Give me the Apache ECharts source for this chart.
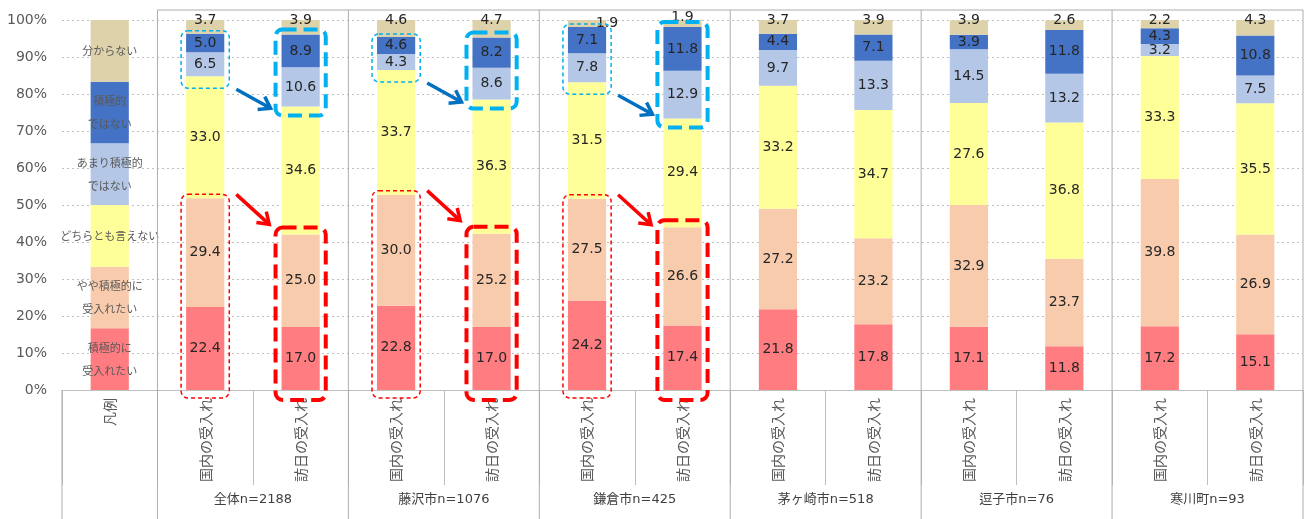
<!DOCTYPE html>
<html>
<head>
<meta charset="utf-8">
<script src="https://cdn.jsdelivr.net/npm/echarts@6/dist/echarts.min.js"></script>
<style>
html, body { margin: 0; padding: 0; background: #ffffff; }
#chart { width: 1308px; height: 519px; }
</style>
</head>
<body>
<div id="chart"></div>
<script>
// Categories on the x axis: a legend column, then a pair of bars per area
const categories = ['凡例',
  '国内の受入れ', '訪日の受入れ', '国内の受入れ', '訪日の受入れ',
  '国内の受入れ', '訪日の受入れ', '国内の受入れ', '訪日の受入れ',
  '国内の受入れ', '訪日の受入れ', '国内の受入れ', '訪日の受入れ'];
const groupLabels = ['全体n=2188', '藤沢市n=1076', '鎌倉市n=425', '茅ヶ崎市n=518', '逗子市n=76', '寒川町n=93'];

// Answer categories (stack order, bottom to top)
const seriesNames = ['積極的に\n受入れたい', 'やや積極的に\n受入れたい', 'どちらとも言えない',
  'あまり積極的\nではない', '積極的\nではない', '分からない'];
// Shares used for the legend column bar
const legendShare = [16.7, 16.6, 16.7, 16.7, 16.6, 16.7];

// Percentages per bar (国内, 訪日 for each area in order)
const strongYes   = [22.4, 17.0, 22.8, 17.0, 24.2, 17.4, 21.8, 17.8, 17.1, 11.8, 17.2, 15.1];
const ratherYes   = [29.4, 25.0, 30.0, 25.2, 27.5, 26.6, 27.2, 23.2, 32.9, 23.7, 39.8, 26.9];
const neutral     = [33.0, 34.6, 33.7, 36.3, 31.5, 29.4, 33.2, 34.7, 27.6, 36.8, 33.3, 35.5];
const notVery     = [6.5, 10.6, 4.3, 8.6, 7.8, 12.9, 9.7, 13.3, 14.5, 13.2, 3.2, 7.5];
const notPositive = [5.0, 8.9, 4.6, 8.2, 7.1, 11.8, 4.4, 7.1, 3.9, 11.8, 4.3, 10.8];
const unknown     = [3.7, 3.9, 4.6, 4.7, 1.9, 1.9, 3.7, 3.9, 3.9, 2.6, 2.2, 4.3];

const yMax = 100;
const yStep = 10;
// Areas whose domestic/inbound pairs are highlighted
const highlightedGroups = [0, 1, 2];

const valueSeries = [strongYes, ratherYes, neutral, notVery, notPositive, unknown];
const colors = ['#FF7C80', '#F8CBAD', '#FFFF99', '#B4C7E7', '#4472C4', '#DED2AA'];
const numFont = 'DejaVu Sans';
const jpFont = 'Noto Sans CJK JP';
const axisGray = '#BFBFBF';
const frameGray = '#ADADAD';

const chart = echarts.init(document.getElementById('chart'), null, { renderer: 'canvas' });

function buildData(si) {
  const items = [{
    value: legendShare[si],
    label: {
      formatter: seriesNames[si], position: 'inside', offset: [0, 0],
      color: '#595959', fontFamily: jpFont, fontSize: 11, lineHeight: 23
    }
  }];
  valueSeries[si].forEach(function (v, i) {
    const item = { value: v };
    if (si === 5 && i === 4) item.label = { offset: [20, 3] };
    if (si === 5 && i === 5) item.label = { offset: [0, -3] };
    items.push(item);
  });
  return items;
}

const series = seriesNames.map(function (name, si) {
  return {
    name: name,
    type: 'bar',
    stack: 'total',
    barWidth: '40%',
    data: buildData(si),
    itemStyle: { color: colors[si] },
    label: {
      show: true,
      position: si === 5 ? ['50%', 0] : 'inside',
      align: 'center',
      verticalAlign: 'middle',
      formatter: function (p) { return Number(p.value).toFixed(1); },
      color: '#262626',
      fontFamily: numFont,
      fontSize: 14
    },
    emphasis: { disabled: true },
    animation: false
  };
});

chart.setOption({
  animation: false,
  grid: { left: 62, right: 5, top: 20, bottom: 129, containLabel: false },
  xAxis: {
    type: 'category',
    data: categories,
    axisLine: { show: true, lineStyle: { color: axisGray, width: 1 } },
    axisTick: { show: true, interval: 0, length: 95, lineStyle: { color: axisGray } },
    axisLabel: {
      interval: 0, rotate: 90, margin: 8,
      color: '#595959', fontFamily: jpFont, fontSize: 14
    },
    splitLine: { show: false }
  },
  yAxis: {
    type: 'value',
    min: 0, max: yMax, interval: yStep,
    axisLine: { show: false },
    axisTick: { show: false },
    axisLabel: {
      formatter: '{value}%', margin: 15,
      color: '#595959', fontFamily: numFont, fontSize: 14
    },
    splitLine: { show: true, lineStyle: { color: axisGray, type: [2, 3], width: 1 } }
  },
  series: series
});

// Frame lines, area labels and highlight annotations, placed via the axes
function cum(upTo, i) {
  let s = 0;
  for (let k = 0; k < upTo; k++) s += valueSeries[k][i];
  return s;
}
const px = function (cat, val) { return chart.convertToPixel({ gridIndex: 0 }, [cat, val]); };
const x0 = px(0, 0)[0];
const slot = px(1, 0)[0] - x0;
const barW = slot * 0.4;
const yBase = px(0, 0)[1];
const yTop = px(0, yMax)[1];
const frameTop = yTop - 10;
const H = chart.getHeight();
const boundary = function (b) { return x0 + (b - 0.5) * slot; };
const py = function (v) { return px(0, v)[1]; };

const graphics = [];
// top frame line over the data columns
graphics.push({ type: 'line', z: 50, silent: true,
  shape: { x1: boundary(1), y1: frameTop, x2: boundary(13), y2: frameTop },
  style: { stroke: frameGray, lineWidth: 1 } });
// area separators
for (let b = 1; b <= 13; b += 2) {
  graphics.push({ type: 'line', z: 50, silent: true,
    shape: { x1: boundary(b), y1: frameTop, x2: boundary(b), y2: H },
    style: { stroke: frameGray, lineWidth: 1 } });
}
graphics.push({ type: 'line', z: 50, silent: true,
  shape: { x1: boundary(0), y1: yBase, x2: boundary(0), y2: H },
  style: { stroke: frameGray, lineWidth: 1 } });
// area labels
groupLabels.forEach(function (t, g) {
  graphics.push({ type: 'text', z: 50, silent: true,
    style: { text: t, x: x0 + (1.5 + 2 * g) * slot, y: H - 19,
      align: 'center', verticalAlign: 'middle',
      font: '13px "' + numFont + '", "' + jpFont + '"', fill: '#404040' } });
});

function box(x, y, w, h, color, lw, dash) {
  return { type: 'rect', z: 60, silent: true,
    shape: { x: x, y: y, width: w, height: h, r: 7 },
    style: { fill: 'none', stroke: color, lineWidth: lw, lineDash: dash } };
}
function arrow(sx, sy, ex, ey, color) {
  const ang = Math.atan2(ey - sy, ex - sx);
  const len = 13, spread = 0.6;
  const p1 = [ex - len * Math.cos(ang - spread), ey - len * Math.sin(ang - spread)];
  const p2 = [ex - len * Math.cos(ang + spread), ey - len * Math.sin(ang + spread)];
  return [
    { type: 'line', z: 60, silent: true,
      shape: { x1: sx, y1: sy, x2: ex - 1.5 * Math.cos(ang), y2: ey - 1.5 * Math.sin(ang) },
      style: { stroke: color, lineWidth: 3.5 } },
    { type: 'polyline', z: 60, silent: true,
      shape: { points: [p1, [ex, ey], p2] },
      style: { stroke: color, lineWidth: 3.5, fill: 'none', lineJoin: 'miter' } }
  ];
}

const lightBlue = '#00B0F0', darkBlue = '#0070C0', red = '#FF0000';
highlightedGroups.forEach(function (g) {
  const c1 = 1 + 2 * g, c2 = 2 + 2 * g;
  const i1 = 2 * g, i2 = 2 * g + 1;
  const cx1 = px(c1, 0)[0], cx2 = px(c2, 0)[0];

  // blue: the two negative answers
  const tb = { x: cx1 - barW / 2 - 5, y: py(cum(5, i1)) - 3, r: 0, b: py(cum(3, i1)) + 12 };
  tb.r = tb.x + barW + 10;
  const kb = { x: cx2 - barW / 2 - 6, y: py(cum(5, i2)) - 5, r: 0, b: py(cum(3, i2)) + 9 };
  kb.r = kb.x + barW + 12;
  graphics.push(box(tb.x, tb.y, tb.r - tb.x, tb.b - tb.y, lightBlue, 1.5, [4, 3]));
  graphics.push(box(kb.x, kb.y, kb.r - kb.x, kb.b - kb.y, lightBlue, 4, [14, 7]));
  arrow(tb.r + 7, tb.b + 1, kb.x - 5, tb.b + 20, darkBlue).forEach(function (e) { graphics.push(e); });

  // red: the two positive answers
  const tr = { x: cx1 - barW / 2 - 5, y: py(cum(2, i1)) - 4, b: yBase + 8 };
  tr.r = tr.x + barW + 10;
  const kr = { x: cx2 - barW / 2 - 6, y: py(cum(2, i2)) - 7, b: yBase + 10 };
  kr.r = kr.x + barW + 12;
  graphics.push(box(tr.x, tr.y, tr.r - tr.x, tr.b - tr.y, red, 1.5, [4, 3]));
  graphics.push(box(kr.x, kr.y, kr.r - kr.x, kr.b - kr.y, red, 4, [14, 7]));
  arrow(tr.r + 7, tr.y, tr.r + 40, tr.y + 30, red).forEach(function (e) { graphics.push(e); });
});

chart.setOption({ graphic: graphics });
</script>
</body>
</html>
